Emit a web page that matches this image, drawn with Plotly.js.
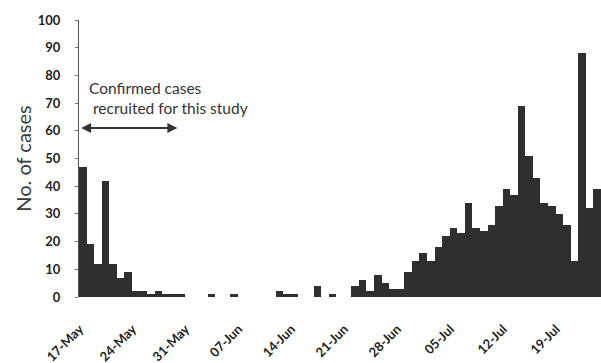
<!DOCTYPE html>
<html>
<head>
<meta charset="utf-8">
<script src="https://cdn.plot.ly/plotly-3.0.1.min.js"></script>
<style>html,body{margin:0;padding:0;background:#fff;}#chart{width:601px;height:363px;}</style>
</head>
<body>
<div id="chart"></div>
<script>
// Daily confirmed cases, one value per day starting 17 May
const startDate = '2009-05-17';
const cases = [
  47, 19, 12, 42, 12, 7, 9, 2, 2, 1,
  2, 1, 1, 1, 0, 0, 0, 1, 0, 0,
  1, 0, 0, 0, 0, 0, 2, 1, 1, 0,
  0, 4, 0, 1, 0, 0, 4, 6, 2, 8,
  5, 3, 3, 9, 13, 16, 13, 18, 22, 25,
  23, 34, 25, 24, 26, 33, 39, 37, 69, 51,
  43, 34, 33, 30, 26, 13, 88, 32, 39
];
const tickDates = ['2009-05-17','2009-05-24','2009-05-31','2009-06-07','2009-06-14','2009-06-21','2009-06-28','2009-07-05','2009-07-12','2009-07-19'];
const tickLabels = ['17-May','24-May','31-May','07-Jun','14-Jun','21-Jun','28-Jun','05-Jul','12-Jul','19-Jul'];
const yTicks = [0,10,20,30,40,50,60,70,80,90,100];
const noteText = 'Confirmed cases<br> recruited for this study';

function addHours(s, h) {
  const d = new Date(s.length <= 10 ? s + 'T00:00:00Z' : s.replace(' ', 'T') + 'Z');
  d.setTime(d.getTime() + h * 3600000);
  return d.toISOString().slice(0, 19).replace('T', ' ');
}
function addDays(s, n) { return addHours(s, n * 24); }
const dates = cases.map((_, i) => addDays(startDate, i).slice(0, 10));
// the label standoff pushes rotated labels along their slant; pull anchors back a little
const labelAnchors = tickDates.map(d => addHours(d, -10));

const trace = {
  type: 'bar',
  x: dates,
  y: cases,
  marker: {color: '#2f2f2f', line: {width: 0}},
  hoverinfo: 'x+y'
};

const font = 'Lato, "Open Sans", "Liberation Sans", sans-serif';

const layout = {
  width: 601, height: 363,
  margin: {l: 79, r: 0, t: 20, b: 66},
  paper_bgcolor: '#fff', plot_bgcolor: '#fff',
  bargap: 0,
  showlegend: false,
  font: {family: font, color: '#222'},
  xaxis: {
    type: 'date',
    range: [addHours(startDate, -12), addHours(startDate, (cases.length - 1) * 24 + 12)],
    tickmode: 'array', tickvals: labelAnchors, ticktext: tickLabels,
    tickangle: -45,
    tickfont: {family: font, size: 13, color: '#222', weight: 'bold'},
    ticklabelstandoff: 21,
    showgrid: false, zeroline: false, showline: false, ticks: ''
  },
  yaxis: {
    range: [0, 100],
    tickmode: 'array', tickvals: yTicks,
    tickfont: {family: font, size: 13, color: '#222', weight: 'bold'},
    ticks: 'outside', ticklen: 3, tickcolor: '#777', tickwidth: 1,
    ticklabelstandoff: 12,
    showgrid: false, zeroline: false,
    showline: true, linecolor: '#555', linewidth: 1,
    title: {text: 'No. of cases', font: {family: font, size: 20, color: '#3a3a3a'}, standoff: 0}
  },
  annotations: [
    {
      xref: 'x', yref: 'y',
      x: addHours(startDate, 14), y: 72,
      text: noteText, showarrow: false,
      xanchor: 'left', yanchor: 'middle', align: 'left',
      font: {family: font, size: 15.5, color: '#333'}
    },
    {
      xref: 'x', yref: 'y', axref: 'x', ayref: 'y',
      x: addHours(startDate, 12 * 24 + 12), y: 61,
      ax: addHours(startDate, -10), ay: 61,
      text: '', showarrow: true,
      arrowhead: 2, startarrowhead: 2, arrowside: 'end+start',
      arrowsize: 1, startarrowsize: 1, arrowwidth: 2, arrowcolor: '#333'
    }
  ]
};

Plotly.newPlot('chart', [trace], layout, {displayModeBar: false, staticPlot: true});
</script>
</body>
</html>
